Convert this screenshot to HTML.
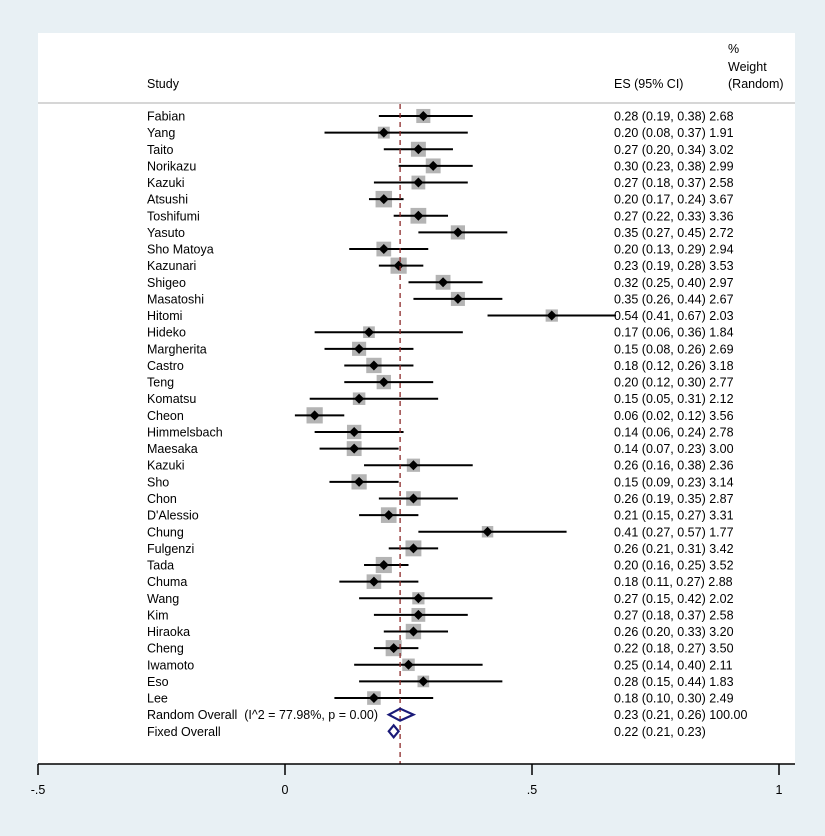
<!DOCTYPE html>
<html><head><meta charset="utf-8"><style>
body{margin:0;background:#e8f0f4;}
svg{display:block;font-family:"Liberation Sans",Arial,sans-serif;}
text{white-space:pre;}
</style></head><body>
<svg id="chart" width="825" height="836">
<rect x="0" y="0" width="825" height="836" fill="#e8f0f4"/>
<rect x="38" y="33" width="757" height="731" fill="#ffffff"/>
<line x1="38" x2="795" y1="103" y2="103" stroke="#c8c8c8" stroke-width="1.5"/>
<text x="147" y="88" font-size="12.5">Study</text>
<text x="614" y="88" font-size="12.5">ES (95% CI)</text>
<text x="728" y="53" font-size="12.5">%</text>
<text x="728" y="71" font-size="12.5">Weight</text>
<text x="728" y="88" font-size="12.5">(Random)</text>
<g id="marks"></g>
</svg>
<script>
const studies=["Fabian","Yang","Taito","Norikazu","Kazuki","Atsushi","Toshifumi","Yasuto","Sho Matoya","Kazunari","Shigeo","Masatoshi","Hitomi","Hideko","Margherita","Castro","Teng","Komatsu","Cheon","Himmelsbach","Maesaka","Kazuki","Sho","Chon","D'Alessio","Chung","Fulgenzi","Tada","Chuma","Wang","Kim","Hiraoka","Cheng","Iwamoto","Eso","Lee"];
const es=[0.28,0.20,0.27,0.30,0.27,0.20,0.27,0.35,0.20,0.23,0.32,0.35,0.54,0.17,0.15,0.18,0.20,0.15,0.06,0.14,0.14,0.26,0.15,0.26,0.21,0.41,0.26,0.20,0.18,0.27,0.27,0.26,0.22,0.25,0.28,0.18];
const lo=[0.19,0.08,0.20,0.23,0.18,0.17,0.22,0.27,0.13,0.19,0.25,0.26,0.41,0.06,0.08,0.12,0.12,0.05,0.02,0.06,0.07,0.16,0.09,0.19,0.15,0.27,0.21,0.16,0.11,0.15,0.18,0.20,0.18,0.14,0.15,0.10];
const hi=[0.38,0.37,0.34,0.38,0.37,0.24,0.33,0.45,0.29,0.28,0.40,0.44,0.67,0.36,0.26,0.26,0.30,0.31,0.12,0.24,0.23,0.38,0.23,0.35,0.27,0.57,0.31,0.25,0.27,0.42,0.37,0.33,0.27,0.40,0.44,0.30];
const weights=[2.68,1.91,3.02,2.99,2.58,3.67,3.36,2.72,2.94,3.53,2.97,2.67,2.03,1.84,2.69,3.18,2.77,2.12,3.56,2.78,3.00,2.36,3.14,2.87,3.31,1.77,3.42,3.52,2.88,2.02,2.58,3.20,3.50,2.11,1.83,2.49];
const overallRandom=[0.233,0.21,0.26];
const overallFixed=[0.22,0.21,0.23];
const ticks=[-0.5,0,0.5,1];
const tickLabels=["-.5","0",".5","1"];

const NS="http://www.w3.org/2000/svg";
const g=document.getElementById('marks');
const xs=v=>285+v*494;
const ys=i=>116+i*16.63;
const FS=12.5;
function mk(tag,attrs,parent){const e=document.createElementNS(NS,tag);for(const k in attrs)e.setAttribute(k,attrs[k]);(parent||g).appendChild(e);return e;}
const f2=v=>v.toFixed(2);
studies.forEach((s,i)=>{
  const y=ys(i);
  let t=mk('text',{x:147,y:y+4.5,'font-size':FS});t.textContent=s;
  
  
  const side=8.6*Math.sqrt(weights[i]);
  let b=mk('rect',{x:xs(es[i])-side/2,y:y-side/2,width:side,height:side,fill:'#b4b4b4'});
  
  
  let l=mk('line',{x1:xs(lo[i]),x2:xs(hi[i]),y1:y,y2:y,stroke:'#000','stroke-width':2});
  
  
  const cx=xs(es[i]);
  let d=mk('polygon',{points:`${cx-5},${y} ${cx},${y-5} ${cx+5},${y} ${cx},${y+5}`,fill:'#000'});
  
  
  let e=mk('text',{x:614,y:y+4.5,'font-size':FS});e.textContent=`${f2(es[i])} (${f2(lo[i])}, ${f2(hi[i])}) ${f2(weights[i])}`;
  
  
});
let dl=mk('line',{x1:xs(overallRandom[0]),x2:xs(overallRandom[0]),y1:104,y2:764,stroke:'#8b2a2a','stroke-width':1.3,'stroke-dasharray':'5,4'});


function diamond(arr,y,name){
  const p=mk('polygon',{points:`${xs(arr[1])},${y} ${xs(arr[0])},${y-6} ${xs(arr[2])},${y} ${xs(arr[0])},${y+6}`,fill:'none',stroke:'#1a1a78','stroke-width':2.2});
  
  
}
const yR=ys(36),yF=ys(37);
diamond(overallRandom,yR,'random-overall-diamond');
diamond(overallFixed,yF,'fixed-overall-diamond');
let t1=mk('text',{x:147,y:yR+4.5,'font-size':FS});t1.textContent='Random Overall  (I^2 = 77.98%, p = 0.00)';


let t2=mk('text',{x:147,y:yF+4.5,'font-size':FS});t2.textContent='Fixed Overall';


let e1=mk('text',{x:614,y:yR+4.5,'font-size':FS});e1.textContent=`${f2(overallRandom[0])} (${f2(overallRandom[1])}, ${f2(overallRandom[2])}) 100.00`;


let e2=mk('text',{x:614,y:yF+4.5,'font-size':FS});e2.textContent=`${f2(overallFixed[0])} (${f2(overallFixed[1])}, ${f2(overallFixed[2])})`;


let ax=mk('line',{x1:38,x2:795,y1:764,y2:764,stroke:'#000','stroke-width':1.5});


ticks.forEach((v,i)=>{
  let tk=mk('line',{x1:xs(v),x2:xs(v),y1:764,y2:775,stroke:'#000','stroke-width':1.5});
  
  
  let tl=mk('text',{x:xs(v),y:794,'font-size':FS,'text-anchor':'middle'});tl.textContent=tickLabels[i];
  
  
});
</script>
</body></html>
